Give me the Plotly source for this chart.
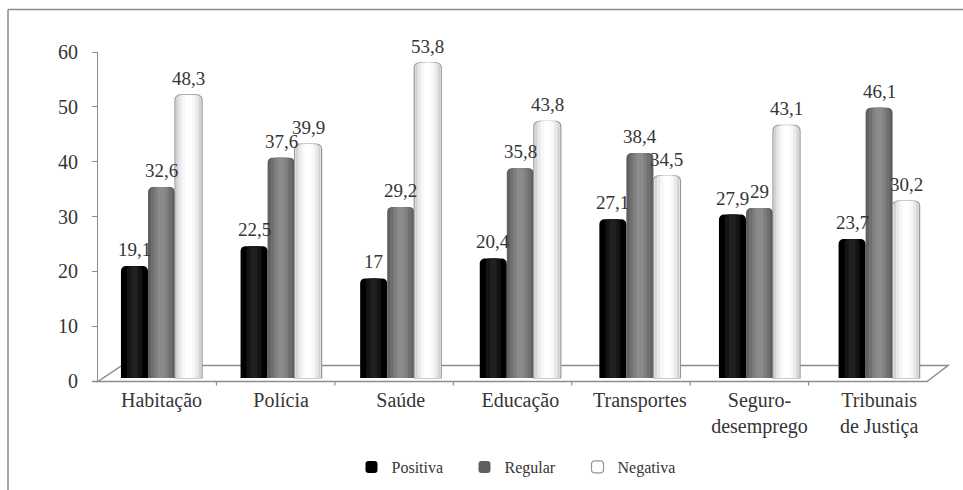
import plotly.graph_objects as go

# Survey data: evaluation of public services (%)
categories = ["Habitação", "Polícia", "Saúde", "Educação", "Transportes",
              "Seguro-<br>desemprego", "Tribunais<br>de Justiça"]
series_names = ["Positiva", "Regular", "Negativa"]
positiva = [19.1, 22.5, 17, 20.4, 27.1, 27.9, 23.7]
regular = [32.6, 37.6, 29.2, 35.8, 38.4, 29, 46.1]
negativa = [48.3, 39.9, 53.8, 43.8, 34.5, 43.1, 30.2]
y_ticks = [0, 10, 20, 30, 40, 50, 60]

W, H = 963, 490
FONT = "Liberation Serif, Times New Roman, serif"
TXT = "#353535"
EDGE = "#8c8c8c"


def px(x):
    return x / W


def py(y):
    return 1 - y / H


def fmt(v):
    return f"{v:g}".replace(".", ",")


xs = list(range(len(categories)))
bar_w = 0.226  # width of one column in category units
cat_px = 119.6  # pixel width of one category slot

# cylinder shading: (width fraction, colour) from the outside in
shading = {
    "Positiva": [(1.0, "#000000"), (0.55, "#141414"), (0.25, "#202020")],
    "Regular": [(1.0, "#606060"), (0.78, "#707070"), (0.52, "#7f7f7f"), (0.28, "#8b8b8b")],
    "Negativa": [(1.0, "#ffffff"), (0.93, "#d3d3d3"), (0.75, "#e9e9e9"), (0.5, "#f8f8f8"), (0.25, "#ffffff")],
}
values = {"Positiva": positiva, "Regular": regular, "Negativa": negativa}

fig = go.Figure()
annotations = []
for s, name in enumerate(series_names):
    vals = values[name]
    centre = (s - 1) * bar_w
    for k, (frac, col) in enumerate(shading[name]):
        w = bar_w * frac
        first = k == 0
        outlined = first and name == "Negativa"
        fig.add_trace(go.Bar(
            x=xs, y=vals, xaxis="x", yaxis="y2",
            width=w, offset=centre - w / 2,
            name=name, showlegend=first,
            marker=dict(color=col, cornerradius=max(1, round(5 * frac)),
                        line=dict(color="#969696" if outlined else col,
                                  width=1.2 if outlined else 0)),
            hoverinfo="skip",
        ))
    # value labels above each column
    for i, v in zip(xs, vals):
        annotations.append(dict(
            x=i + centre, y=v, xref="x", yref="y2", text=fmt(v), showarrow=False,
            xanchor="center", yanchor="bottom", yshift=4,
            font=dict(family=FONT, size=19, color=TXT)))

# an invisible reference trace keeps the front value axis attached to the plot
fig.add_trace(go.Scatter(x=[xs[0]], y=[y_ticks[0]], xaxis="x", yaxis="y", mode="markers",
                         marker=dict(opacity=0), showlegend=False, hoverinfo="skip"))

# floor of the 3-D box and its category ticks
shapes = [
    dict(type="path", xref="paper", yref="paper", layer="below",
         path=f"M {px(98)},{py(381.5)} L {px(927)},{py(381.5)} L {px(948)},{py(365.5)} "
              f"L {px(122)},{py(365.5)} Z",
         line=dict(color=EDGE, width=1.5), fillcolor="rgba(0,0,0,0)"),
    dict(type="line", xref="paper", yref="paper", x0=px(92), x1=px(98), y0=py(381.5), y1=py(381.5),
         line=dict(color=EDGE, width=1.5)),
]
for k in range(1, len(categories)):
    xk = 98 + k * (927 - 98) / len(categories)
    shapes.append(dict(type="line", xref="paper", yref="paper", x0=px(xk), x1=px(xk),
                       y0=py(381.5), y1=py(385.5), line=dict(color=EDGE, width=1.2)))
# outer frame (top and left edges)
shapes.append(dict(type="line", xref="paper", yref="paper", x0=px(8), x1=1, y0=py(9.5), y1=py(9.5),
                   line=dict(color="#8a8a8a", width=1.5)))
shapes.append(dict(type="line", xref="paper", yref="paper", x0=px(8), x1=px(8), y0=py(9.5), y1=0,
                   line=dict(color="#8a8a8a", width=1.5)))

dom_y = [py(381), py(52)]
# columns are scaled on a deeper plane than the front value axis
scale2 = 5.86
r0 = -3 / scale2
r1 = r0 + (381 - 52) / scale2

x_left = 98
x_right = 938.9
x_range = [-0.5 - (161.5 - cat_px / 2 - x_left) / cat_px, 6.5]

fig.update_layout(
    width=W, height=H, autosize=False,
    margin=dict(l=0, r=0, t=0, b=0, autoexpand=False),
    paper_bgcolor="white", plot_bgcolor="rgba(0,0,0,0)",
    barmode="overlay",
    font=dict(family=FONT, color=TXT),
    shapes=shapes,
    annotations=annotations,
    xaxis=dict(domain=[px(x_left), px(x_right)], range=x_range, anchor="y",
               tickmode="array", tickvals=xs, ticktext=categories, automargin=False,
               showgrid=False, zeroline=False, showline=False, ticks="",
               tickfont=dict(family=FONT, size=20, color=TXT), ticklabelstandoff=5),
    yaxis=dict(domain=dom_y, range=[0, 60], tickmode="array", tickvals=y_ticks,
               anchor="x", automargin=False, visible=True,
               showgrid=False, zeroline=False, showline=True, linecolor=EDGE, linewidth=1,
               ticks="outside", ticklen=5, tickcolor=EDGE,
               tickfont=dict(family=FONT, size=20, color=TXT), ticklabelstandoff=10),
    yaxis2=dict(overlaying="y", anchor="x", domain=dom_y, range=[r0, r1],
                visible=False, automargin=False),
    legend=dict(orientation="h", x=px(521), xanchor="center", y=py(467), yanchor="middle",
                font=dict(family=FONT, size=16, color=TXT),
                entrywidth=68, entrywidthmode="pixels", traceorder="normal",
                bgcolor="rgba(0,0,0,0)"),
)

fig.write_html("out.html")
